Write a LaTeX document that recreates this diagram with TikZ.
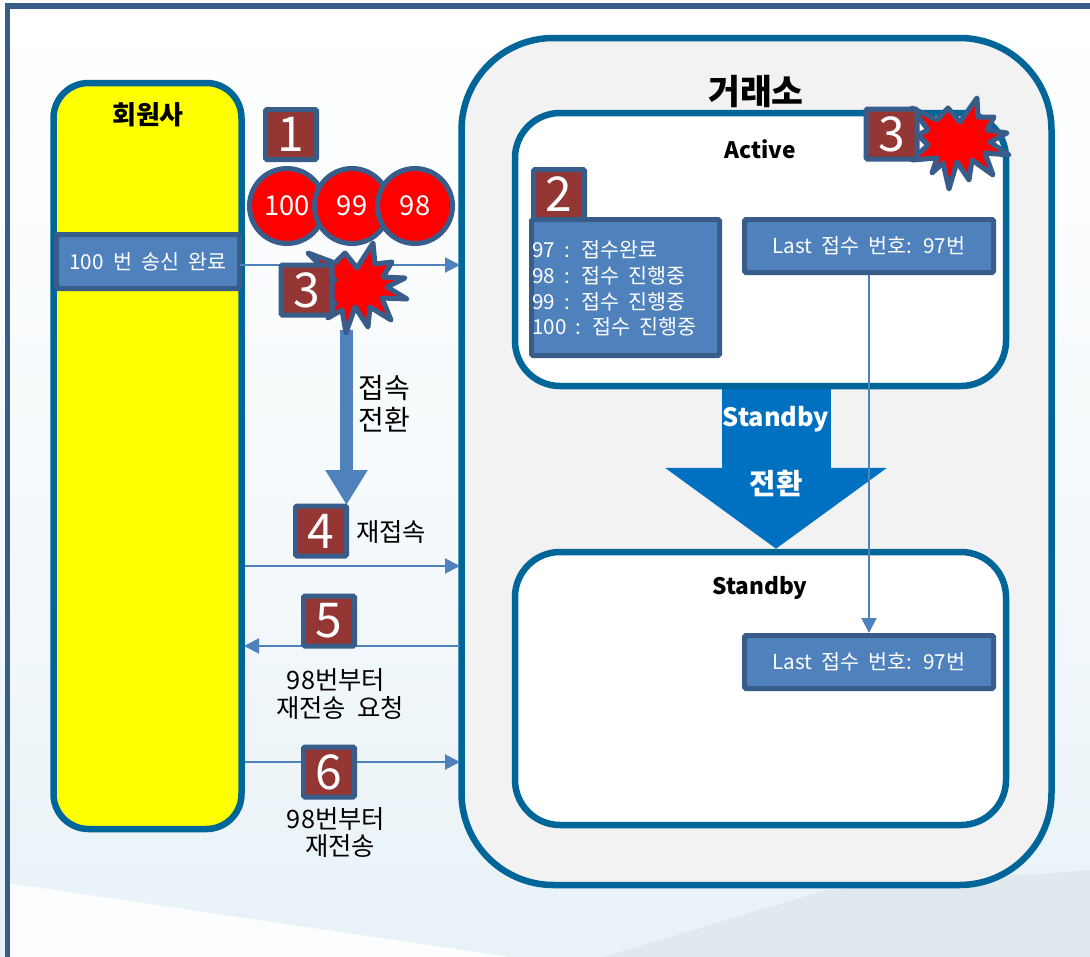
\documentclass[tikz,border=0pt]{standalone}
\usepackage{fontspec}
\setmainfont[WordSpace=2]{Noto Sans CJK KR}
\usetikzlibrary{arrows.meta}
\def\px{.75pt}
\definecolor{framecol}{HTML}{006699}
\definecolor{edgecol}{HTML}{385D8A}
\definecolor{boxcol}{HTML}{4F81BD}
\definecolor{badgecol}{HTML}{943634}
\definecolor{bigarrow}{HTML}{0070C0}
\definecolor{palebg}{HTML}{E8F2F7}
\definecolor{wedgebg}{HTML}{DFE9EE}
\definecolor{purered}{HTML}{FF0000}
\definecolor{pureyellow}{HTML}{FFFF00}
\tikzset{
  panel/.style={draw=framecol, line width=6.5*\px, fill=white},
  bluebox/.style={draw=edgecol, line width=5*\px, fill=boxcol, text=white, rounded corners=1pt, inner sep=0pt, font=\fontsize{15.5}{19}\selectfont},
  badge/.style={draw=edgecol, line width=5*\px, fill=badgecol, text=white, rounded corners=1pt, minimum width=51*\px, minimum height=50*\px, inner sep=0pt, font=\fontsize{36}{36}\selectfont},
  seqball/.style={circle, draw=edgecol, line width=5*\px, fill=purered, text=white, minimum size=75*\px, inner sep=0pt, font=\fontsize{20.5}{24}\selectfont},
  burst/.style={draw=edgecol, line width=5*\px, fill=purered, line join=round},
  label/.style={inner sep=0pt, align=center, font=\fontsize{19}{21}\selectfont},
  head/.style={inner sep=0pt, font=\fontsize{17}{20}\selectfont\bfseries},
  link/.style={draw=boxcol, line width=2*\px, ->}
}
\begin{document}
\begin{tikzpicture}[x=.75pt, y=-.75pt, >={Triangle[length=15*\px, width=15*\px]}]
  \useasboundingbox (0,0) rectangle (1090,957);
  % backdrop
  \shade[top color=white, bottom color=palebg, middle color=white!60!palebg] (0,0) rectangle (1090,957);
  \fill[white!85!palebg] (7,883) -- (510,957) -- (7,957) -- cycle;
  \fill[wedgebg] (604,957) -- (826,890) -- (1090,870) -- (1090,957) -- cycle;
  \fill[edgecol] (5,3) rectangle (1090,9);
  \fill[edgecol] (5,3) rectangle (10,957);

  % panels
  \node[panel, fill=pureyellow, minimum width=188*\px, minimum height=746*\px, rounded corners=35*\px] (member) at (147.5,456) {};
  \node[panel, fill=black!5, minimum width=590*\px, minimum height=847*\px, rounded corners=92*\px] (krx) at (756.5,461.5) {};
  \node[panel, minimum width=491*\px, minimum height=273*\px, rounded corners=45*\px] (active) at (760.5,249.5) {};
  \node[panel, minimum width=491*\px, minimum height=273*\px, rounded corners=45*\px] (standby) at (760.5,688.5) {};

  \node[head, font=\fontsize{19.5}{22}\selectfont\bfseries] (membertitle) at (148,115) {회원사};
  \node[head, font=\fontsize{26}{30}\selectfont\bfseries] (krxtitle) at (756,92) {거래소};
  \node[head] (activetitle) at (760,149) {Active};
  \node[head] (standbytitle) at (760,588) {Standby};

  % switch over arrow
  \draw[bigarrow, line width=109*\px, -{Triangle[length=81*\px, width=218*\px]}] (active.south -| 776,0) -- (standby.north -| 776,0);
  \node[head, text=white, font=\fontsize{19}{24}\selectfont\bfseries] (switchtop) at (776,419) {Standby};
  \node[head, text=white, font=\fontsize{21.5}{24}\selectfont\bfseries] (switchlow) at (776,483) {전환};

  % boxes
  \node[badge] (badge2) at (559,194.5) {2};
  \node[bluebox, minimum width=183*\px, minimum height=54*\px] (sendbox) at (148,261.5) {100 번 송신 완료};
  \node[bluebox, minimum width=188*\px, minimum height=136*\px] (listbox) at (625.5,287.5) {};
  \node[anchor=west, inner sep=0pt, text=white, align=left, font=\fontsize{15.5}{19.3}\selectfont] (listtext) at (532,288.5) {97 : 접수완료\\98 : 접수 진행중\\99 : 접수 진행중\\100 : 접수 진행중};
  \node[bluebox, minimum width=249*\px, minimum height=53*\px] (lastactive) at (869,246) {Last 접수 번호: 97번};
  \node[bluebox, minimum width=249*\px, minimum height=53*\px] (laststandby) at (869,662) {Last 접수 번호: 97번};
  \draw[link] (lastactive) -- (laststandby);

  % connectors
  \coordinate (from3) at (240,265);
  \coordinate (to3) at (460,265);
  \coordinate (from4) at (245,566);
  \coordinate (to4) at (460,566);
  \coordinate (from5) at (460,646);
  \coordinate (to5) at (244,646);
  \coordinate (from6) at (245,762);
  \coordinate (to6) at (460,762);
  \draw[link] (from3) -- (to3);
  \draw[link] (from4) -- (to4);
  \draw[link] (from5) -- (to5);
  \draw[link] (from6) -- (to6);

  % sequence numbers
  \node[seqball] (ball100) at (287,206) {100};
  \node[seqball] (ball99) at (352,206) {99};
  \node[seqball] (ball98) at (415,206) {98};

  % reconnect arrow
  \coordinate (failpoint) at (346.5,330);
  \coordinate (reconnect) at (346.5,505);
  \draw[boxcol, line width=13*\px, -{Triangle[length=35*\px, width=40*\px]}] (failpoint) -- (reconnect);
  \node[label, font=\fontsize{21}{24}\selectfont] (reconnecttext) at (384,404) {접속\\전환};

  % bursts
  \draw[burst] (308,253) -- (335,263) -- (345,253) -- (357,268) -- (373,243) -- (375,264) -- (392,262) -- (383,277) -- (405,278) -- (387,287) -- (407,299) -- (382,298) -- (391,320) -- (370,307) -- (368,327) -- (355,307) -- (346,333) -- (342,310) -- (328,318) -- (335,303) -- (318,290) -- (335,280) -- cycle;
  \draw[burst] (912,108) -- (937,120) -- (948,108) -- (960,122) -- (977,98) -- (978,117) -- (994,117) -- (987,130) -- (1007,133) -- (990,142) -- (1009,155) -- (985,153) -- (993,175) -- (972,160) -- (969,180) -- (957,162) -- (949,189) -- (943,163) -- (932,173) -- (937,158) -- (912,160) -- (928,145) -- (918,135) -- (928,130) -- cycle;

  % badges
  \node[badge] (badge1) at (291,134.5) {1};
  \node[badge] (badge3a) at (306.5,290) {3};
  \node[badge] (badge3b) at (891.5,134) {3};
  \node[badge] (badge4) at (321,531) {4};
  \node[badge] (badge5) at (329,621) {5};
  \node[badge] (badge6) at (329,772) {6};

  % labels
  \node[label] (text4) at (391,532) {재접속};
  \node[label] (text5a) at (336,680) {98번부터};
  \node[label] (text5b) at (340,708) {재전송 요청};
  \node[label] (text6a) at (336,819) {98번부터};
  \node[label] (text6b) at (340,846) {재전송};
\end{tikzpicture}
\end{document}
